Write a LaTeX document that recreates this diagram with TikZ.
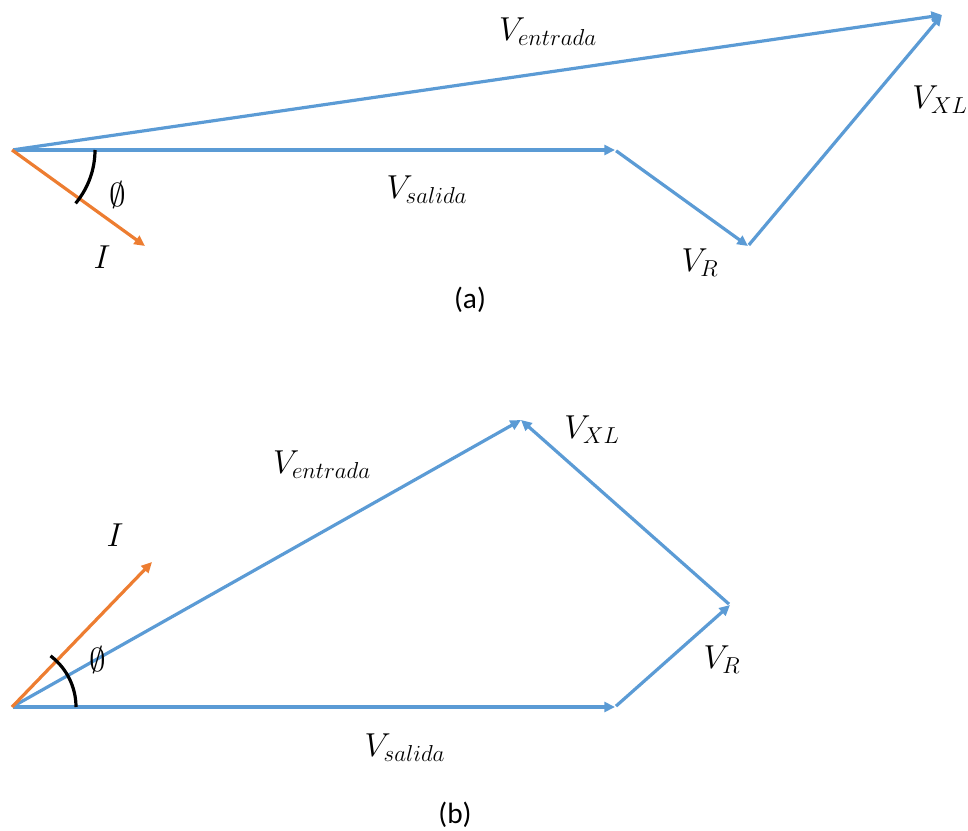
\documentclass[tikz,border=0pt]{standalone}
\usepackage{fontspec}
\setmainfont{Carlito}
\usepackage{amsmath,amssymb}
\DeclareMathSizes{24}{24}{18}{14}
\definecolor{fasorazul}{HTML}{5B9BD5}
\definecolor{fasornaranja}{HTML}{ED7D31}
\usetikzlibrary{arrows.meta, positioning, calc}
\tikzset{
  fasor/.style={fasorazul, line width=2.4pt, shorten <=1pt, -{Triangle[length=8pt, width=7.5pt]}},
  corriente/.style={fasornaranja, line width=2.4pt, -{Triangle[length=8pt, width=7.5pt]}},
  angulo/.style={black, line width=2.4pt},
  etiqueta/.style={font=\fontsize{24}{28}\selectfont, inner sep=0pt},
  titulo/.style={font=\fontsize{22}{26}\selectfont, inner sep=0pt}
}

\begin{document}
\begin{tikzpicture}[x=0.75pt, y=0.75pt]
      \useasboundingbox (0,0) rectangle (968,-831);
      % (a) puntos del diagrama
      \coordinate (Oa) at (12,-150);
      \coordinate (Sa) at (615,-150);
      \coordinate (Ra) at (748,-246);
      \coordinate (Ea) at (942,-15);
      \coordinate (Ia) at (145,-246);
      % (a) fasores
      \draw[fasor] (Oa) -- (Ea);
      \draw[fasor] (Oa) -- (Sa);
      \draw[fasor] (Sa) -- (Ra);
      \draw[fasor] (Ra) -- (Ea);
      \draw[corriente] (Oa) -- (Ia);
      \draw[angulo] (Oa) ++(0:83) arc[start angle=0, end angle=-40, radius=83];
      \node[etiqueta] (entradaA) at (548,-32) {$V_{entrada}$};
      \node[etiqueta] (xlA) at (940,-100) {$V_{XL}$};
      \node[etiqueta] (salidaA) at (427,-190) {$V_{salida}$};
      \node[etiqueta] (rA) at (700,-263) {$V_R$};
      \node[etiqueta] (iA) at (102,-257) {$I$};
      \node[etiqueta] (phiA) at (118,-195) {$\emptyset$};
      \node[titulo] (a) at (470,-300) {(a)};
      % (b) puntos del diagrama
      \coordinate (Ob) at (12,-707);
      \coordinate (Sb) at (615,-707);
      \coordinate (Rb) at (730,-605);
      \coordinate (Eb) at (521,-420);
      \coordinate (Ib) at (152,-562);
      % (b) fasores
      \draw[fasor] (Ob) -- (Eb);
      \draw[fasor] (Ob) -- (Sb);
      \draw[fasor] (Sb) -- (Rb);
      \draw[fasor] (Rb) -- (Eb);
      \draw[corriente] (Ob) -- (Ib);
      \draw[angulo] (Ob) ++(0:64) arc[start angle=0, end angle=53, radius=64];
      \node[etiqueta] (entradaB) at (322,-465) {$V_{entrada}$};
      \node[etiqueta] (xlB) at (592,-430) {$V_{XL}$};
      \node[etiqueta] (rB) at (722,-660) {$V_R$};
      \node[etiqueta] (salidaB) at (405,-748) {$V_{salida}$};
      \node[etiqueta] (iB) at (115,-535) {$I$};
      \node[etiqueta] (phiB) at (98,-660) {$\emptyset$};
      \node[titulo] (b) at (455,-815) {(b)};
    \end{tikzpicture}
\end{document}
